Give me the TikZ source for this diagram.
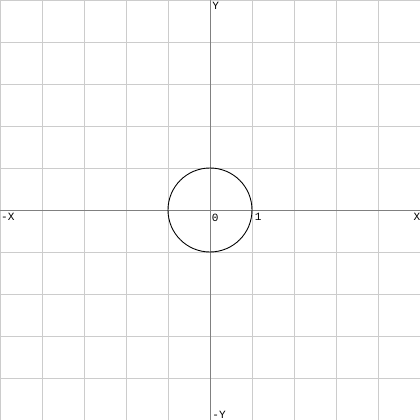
\documentclass[tikz,border=0pt]{standalone}
\usepackage{fontspec}
\setmonofont{Liberation Mono}
\begin{document}
\begin{tikzpicture}[
  gridline/.style={draw=black!20, line width=0.6pt},
  axisline/.style={draw=black!50, line width=0.6pt},
  lbl/.style={inner sep=0pt, anchor=north west, font=\ttfamily\fontsize{7.5}{8}\selectfont}
]
\useasboundingbox (-5,-5) rectangle (5,5);
\fill[white] (-5,-5) rectangle (5,5);
\foreach \i in {-5,...,5} {
  \draw[gridline] (\i,-5) -- (\i,5);
  \draw[gridline] (-5,\i) -- (5,\i);
}
\coordinate (xl) at (-5,0);
\coordinate (xr) at (5,0);
\coordinate (yb) at (0,-5);
\coordinate (yt) at (0,5);
\draw[axisline] (xl) -- (xr);
\draw[axisline] (yb) -- (yt);
\coordinate (o) at (0,0);
\draw[black, line width=0.6pt] (o) circle (1);
\node[lbl] (ly) at (0.05,4.96) {Y};
\node[lbl] (lx) at (4.84,-0.06) {X};
\node[lbl] (lmx) at (-4.98,-0.06) {-X};
\node[lbl] (lmy) at (0.05,-4.78) {-Y};
\node[lbl] (l0) at (0.04,-0.08) {0};
\node[lbl] (l1) at (1.06,-0.08) {1};
\end{tikzpicture}
\end{document}
